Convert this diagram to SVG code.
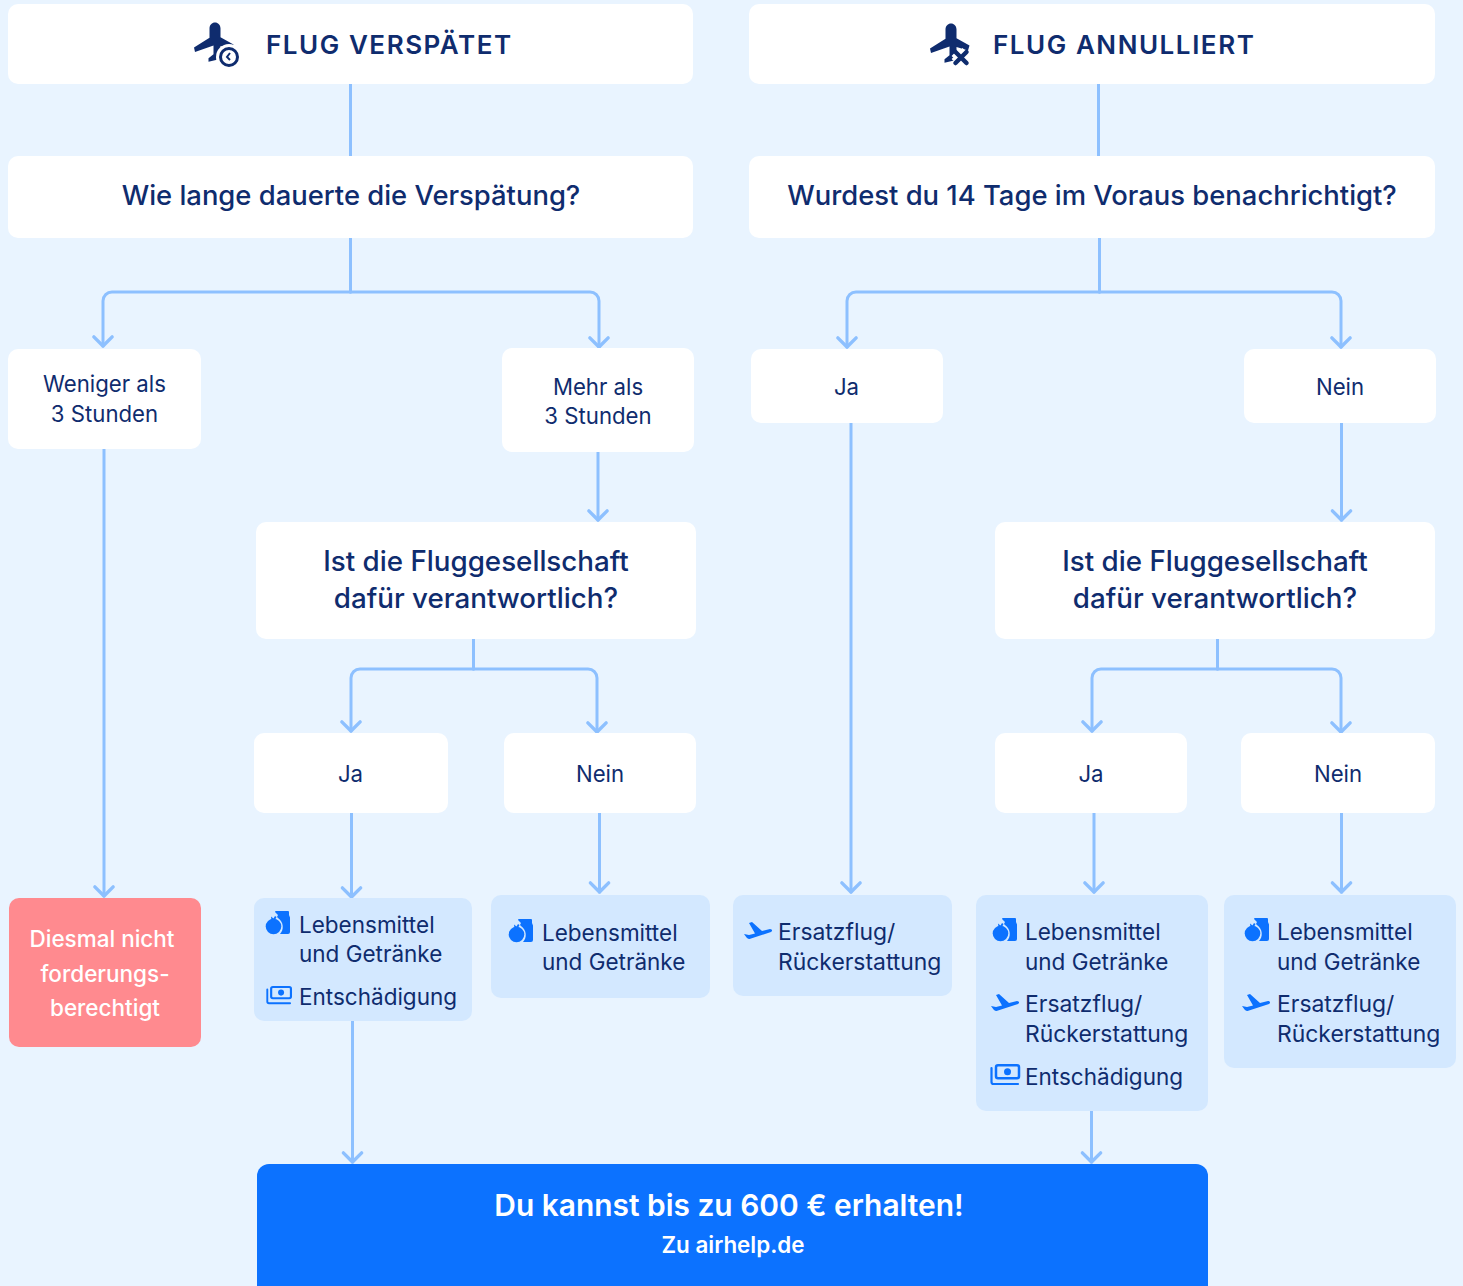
<svg xmlns="http://www.w3.org/2000/svg" width="1463" height="1286" viewBox="0 0 1463 1286">
<style>
text{font-family:Inter,"Liberation Sans",sans-serif;fill:#0f2c6e;text-anchor:middle}
.w{fill:#fff}.b{fill:#d3e8ff}
.h{font-size:26px;font-weight:600;letter-spacing:1.55px;text-anchor:start}
.q{font-size:27.4px;font-weight:500}
.q2{font-size:27.75px;font-weight:500}
.a{font-size:22.2px}
.n{font-size:22.5px;font-weight:500;fill:#fff}
.l{font-size:22.5px;text-anchor:start}
.r{font-size:22.9px;text-anchor:start}
.c{fill:none;stroke:#8dc0ff;stroke-width:3;stroke-linecap:round;stroke-linejoin:round}
.ic{fill:#0c72ff}
</style>
<defs>
<marker id="ar" markerUnits="userSpaceOnUse" markerWidth="24" markerHeight="16" refX="10" refY="12" viewBox="0 0 20 14" overflow="visible"><path d="M2 4L10 12L18 4" fill="none" stroke="#8dc0ff" stroke-width="3" stroke-linecap="round" stroke-linejoin="round"/></marker>
<symbol id="food" overflow="visible"><circle cx="7.500" cy="15.500" r="7.800" class="ic"/><path d="M5 5.500l2.500 2 1.500-2.500 1.500 1-2 4H5.500z" class="ic"/><path d="M9 1a1 1 0 0 1 1-1h12a1 1 0 0 1 1 1v3l1 2.500V21a2 2 0 0 1-2 2h-8c4-4 4-12-2-16l-1-1 1-2z" class="ic"/></symbol>
<symbol id="plane" overflow="visible"><path d="M1 12l5 1 6-1.500L6 1l3-1 10 9 8-2c2 0 3 2 1 3L6.500 17c-2 0-3.500-2-5.500-5z" class="ic"/></symbol>
<symbol id="money" overflow="visible"><rect x="6" y="1.200" width="23" height="13" rx="2" fill="none" stroke="#0c72ff" stroke-width="2.500"/><circle cx="17.500" cy="7.700" r="3.500" class="ic"/><path d="M1.500 4v14a2 2 0 0 0 2 2H28" fill="none" stroke="#0c72ff" stroke-width="2.200" stroke-linecap="round"/></symbol>
<symbol id="bigplane" overflow="visible"><path d="M21 .500c3 0 5.500 2.500 5.500 6v9l13 7.500-1.500 5-11.500-3.500v8.500l5 4v3.500l-8.500-2-8.500 2v-3.500l5-4V24L1 30.500 0 26l15.500-10V6.500c0-3.500 2.500-6 5.500-6z" fill="#0f2c6e"/></symbol>
</defs>
<rect width="1463" height="1286" fill="#e9f4ff"/>
<g id="connectors" class="c">
<path d="M350.500 84V156M350.500 238V292"/>
<path d="M350.500 292H112a9 9 0 0 0-9 9V346" marker-end="url(#ar)"/>
<path d="M350.500 292H590a9 9 0 0 1 9 9V347" marker-end="url(#ar)"/>
<path d="M1098.500 84V156M1099.500 238V292"/>
<path d="M1099.500 292H856a9 9 0 0 0-9 9V347" marker-end="url(#ar)"/>
<path d="M1099.500 292H1332a9 9 0 0 1 9 9V347" marker-end="url(#ar)"/>
<path d="M104 449V896" marker-end="url(#ar)"/>
<path d="M598 452V520" marker-end="url(#ar)"/>
<path d="M851 423V892" marker-end="url(#ar)"/>
<path d="M1341.500 423V520" marker-end="url(#ar)"/>
<path d="M473.500 639V669"/>
<path d="M473.500 669H360a9 9 0 0 0-9 9V731" marker-end="url(#ar)"/>
<path d="M473.500 669H588a9 9 0 0 1 9 9V732" marker-end="url(#ar)"/>
<path d="M1217.500 639V669"/>
<path d="M1217.500 669H1101a9 9 0 0 0-9 9V731" marker-end="url(#ar)"/>
<path d="M1217.500 669H1332a9 9 0 0 1 9 9V732" marker-end="url(#ar)"/>
<path d="M351.500 813V897" marker-end="url(#ar)"/>
<path d="M599.500 813V892" marker-end="url(#ar)"/>
<path d="M1094 813V892" marker-end="url(#ar)"/>
<path d="M1341.500 813V892" marker-end="url(#ar)"/>
<path d="M352.500 1021V1162" marker-end="url(#ar)"/>
<path d="M1091.500 1111V1162" marker-end="url(#ar)"/>
</g>
<g id="n-delayed"><rect class="w" x="8" y="4" width="685" height="80" rx="10"/>
<use href="#bigplane" transform="translate(194 22) scale(1 .98)"/>
<circle cx="229" cy="57" r="13" fill="#fff"/><circle cx="229" cy="57" r="8.500" fill="#fff" stroke="#0f2c6e" stroke-width="3"/><path d="M230 53l-3 4 3 3" fill="none" stroke="#0f2c6e" stroke-width="2"/>
<text class="h" x="266" y="54">FLUG VERSPÄTET</text></g>
<g id="n-cancelled"><rect class="w" x="749" y="4" width="686" height="80" rx="10"/>
<use href="#bigplane" transform="translate(930 23) scale(1 .98)"/>
<path d="M955.500 52l11 11M966.500 52l-11 11" stroke="#fff" stroke-width="11"/><path d="M955.500 52l11 11M966.500 52l-11 11" stroke="#0f2c6e" stroke-width="4.500" stroke-linecap="round"/>
<text class="h" x="993" y="54">FLUG ANNULLIERT</text></g>
<g id="n-q1"><rect class="w" x="8" y="156" width="685" height="82" rx="10"/><text class="q" x="351" y="205">Wie lange dauerte die Verspätung?</text></g>
<g id="n-q2"><rect class="w" x="749" y="156" width="686" height="82" rx="10"/><text class="q" x="1092" y="205">Wurdest du 14 Tage im Voraus benachrichtigt?</text></g>
<g id="n-lt3"><rect class="w" x="8" y="349" width="193" height="100" rx="10"/><text class="a" x="104.500" y="392">Weniger als</text><text class="a" x="104.500" y="421.500">3 Stunden</text></g>
<g id="n-gt3"><rect class="w" x="502" y="348" width="192" height="104" rx="10"/><text class="a" x="598" y="395">Mehr als</text><text class="a" x="598" y="424">3 Stunden</text></g>
<g id="n-ja1"><rect class="w" x="751" y="349" width="192" height="74" rx="10"/><text class="a" x="846.500" y="395">Ja</text></g>
<g id="n-nein1"><rect class="w" x="1244" y="349" width="192" height="74" rx="10"/><text class="a" x="1340" y="395">Nein</text></g>
<g id="n-q3"><rect class="w" x="256" y="522" width="440" height="117" rx="10"/><text class="q2" x="476" y="571">Ist die Fluggesellschaft</text><text class="q2" x="476" y="608">dafür verantwortlich?</text></g>
<g id="n-q4"><rect class="w" x="995" y="522" width="440" height="117" rx="10"/><text class="q2" x="1215" y="571">Ist die Fluggesellschaft</text><text class="q2" x="1215" y="608">dafür verantwortlich?</text></g>
<g id="n-ja2"><rect class="w" x="254" y="733" width="194" height="80" rx="10"/><text class="a" x="350.500" y="782">Ja</text></g>
<g id="n-nein2"><rect class="w" x="504" y="733" width="192" height="80" rx="10"/><text class="a" x="600" y="782">Nein</text></g>
<g id="n-ja3"><rect class="w" x="995" y="733" width="192" height="80" rx="10"/><text class="a" x="1091" y="782">Ja</text></g>
<g id="n-nein3"><rect class="w" x="1241" y="733" width="194" height="80" rx="10"/><text class="a" x="1338" y="782">Nein</text></g>
<g id="n-no"><rect x="9" y="898" width="192" height="149" rx="10" fill="#ff8a8f"/>
<text class="n" x="102" y="947" style="fill:#fff">Diesmal nicht</text><text class="n" x="105" y="982" style="fill:#fff">forderungs-</text><text class="n" x="105" y="1016" style="fill:#fff">berechtigt</text></g>
<g id="n-r1"><rect class="b" x="254" y="898" width="218" height="123" rx="10"/>
<use href="#food" x="266" y="911"/><text class="l" x="299" y="933">Lebensmittel</text><text class="l" x="299" y="962">und Getränke</text>
<use href="#money" transform="translate(266 986) scale(.86)"/><text class="l" x="299" y="1005">Entschädigung</text></g>
<g id="n-r2"><rect class="b" x="491" y="895" width="219" height="103" rx="10"/>
<use href="#food" x="509" y="919"/><text class="l" x="542" y="941">Lebensmittel</text><text class="l" x="542" y="970">und Getränke</text></g>
<g id="n-r3"><rect class="b" x="733" y="895" width="219" height="101" rx="10"/>
<use href="#plane" x="743" y="922"/><text class="r" x="778" y="940">Ersatzflug/</text><text class="r" x="778" y="970">Rückerstattung</text></g>
<g id="n-r4"><rect class="b" x="976" y="895" width="232" height="216" rx="10"/>
<use href="#food" x="993" y="918"/><text class="l" x="1025" y="940">Lebensmittel</text><text class="l" x="1025" y="970">und Getränke</text>
<use href="#plane" x="990" y="994"/><text class="r" x="1025" y="1012">Ersatzflug/</text><text class="r" x="1025" y="1042">Rückerstattung</text>
<use href="#money" x="990" y="1064"/><text class="l" x="1025" y="1085">Entschädigung</text></g>
<g id="n-r5"><rect class="b" x="1224" y="895" width="232" height="173" rx="10"/>
<use href="#food" x="1245" y="918"/><text class="l" x="1277" y="940">Lebensmittel</text><text class="l" x="1277" y="970">und Getränke</text>
<use href="#plane" x="1241" y="994"/><text class="r" x="1277" y="1012">Ersatzflug/</text><text class="r" x="1277" y="1042">Rückerstattung</text></g>
<g id="n-cta"><rect x="257" y="1164" width="951" height="140" rx="12" fill="#0c72ff"/>
<text x="729" y="1215.500" style="fill:#fff;font-size:29.900px;font-weight:600">Du kannst bis zu 600 € erhalten!</text>
<text x="733" y="1253" style="fill:#fff;font-size:22.400px;font-weight:600">Zu airhelp.de</text></g>
</svg>
